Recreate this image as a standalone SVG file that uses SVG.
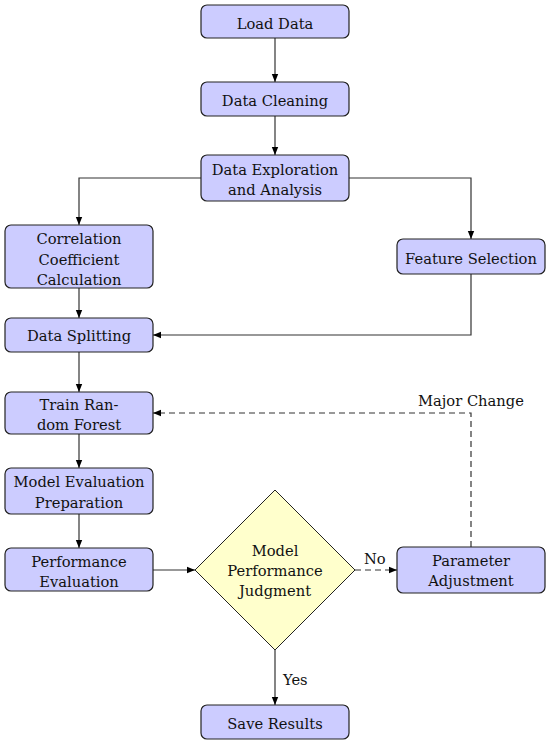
<svg xmlns="http://www.w3.org/2000/svg" width="550" height="745" viewBox="0 0 550 745">
<defs>
<marker id="ah" viewBox="0 0 10 10" refX="10" refY="5" markerWidth="8" markerHeight="8" markerUnits="userSpaceOnUse" orient="auto">
<path d="M0,1 L10,5 L0,9 z" fill="#000"/>
</marker>
<style>
.box{fill:#ccccff;stroke:#222;stroke-width:1.2}
.dia{fill:#ffffcc;stroke:#222;stroke-width:1}
text{font-family:'DejaVu Serif','Liberation Serif',serif;font-size:14.7px;fill:#111}
.t{text-anchor:middle;dominant-baseline:central}
.l{dominant-baseline:central}
.c{fill:none;stroke:#333;stroke-width:1.2;marker-end:url(#ah)}
.d{stroke-dasharray:6,4}
</style>
</defs>
<g id="connectors">
<path class="c" d="M275,38 V82"/>
<path class="c" d="M275,116 V155"/>
<path class="c" d="M201,178 H79 V225"/>
<path class="c" d="M349,178 H471 V239"/>
<path class="c" d="M79,288 V318"/>
<path class="c" d="M471,274 V335 H153"/>
<path class="c" d="M79,352 V392"/>
<path class="c" d="M79,434 V468"/>
<path class="c" d="M79,514 V548"/>
<path class="c" d="M153,570 H195"/>
<path class="c d" d="M355,570 H397"/>
<path class="c d" d="M471,547 V413 H153"/>
<path class="c" d="M275,650 V705"/>
<text class="l" x="364" y="558">No</text>
<text class="l" x="418" y="400">Major Change</text>
<text class="l" x="283" y="679">Yes</text>
</g>
<g id="load"><rect class="box" x="201" y="5" width="148" height="33" rx="6"/><text class="t" x="275" y="23">Load Data</text></g>
<g id="clean"><rect class="box" x="201" y="82" width="148" height="34" rx="6"/><text class="t" x="275" y="100">Data Cleaning</text></g>
<g id="explore"><rect class="box" x="201" y="155" width="148" height="46" rx="6"/><text class="t" x="275" y="169">Data Exploration</text><text class="t" x="275" y="189">and Analysis</text></g>
<g id="corr"><rect class="box" x="5" y="225" width="148" height="63" rx="6"/><text class="t" x="79" y="238">Correlation</text><text class="t" x="79" y="259">Coefficient</text><text class="t" x="79" y="279">Calculation</text></g>
<g id="feature"><rect class="box" x="397" y="239" width="148" height="35" rx="6"/><text class="t" x="471" y="258">Feature Selection</text></g>
<g id="split"><rect class="box" x="5" y="318" width="148" height="34" rx="6"/><text class="t" x="79" y="335">Data Splitting</text></g>
<g id="train"><rect class="box" x="5" y="392" width="148" height="42" rx="6"/><text class="t" x="79" y="404">Train Ran-</text><text class="t" x="79" y="424">dom Forest</text></g>
<g id="prep"><rect class="box" x="5" y="468" width="148" height="46" rx="6"/><text class="t" x="79" y="481">Model Evaluation</text><text class="t" x="79" y="502">Preparation</text></g>
<g id="perf"><rect class="box" x="5" y="548" width="148" height="43" rx="6"/><text class="t" x="79" y="561">Performance</text><text class="t" x="79" y="581">Evaluation</text></g>
<g id="judge"><polygon class="dia" points="275,490 355,570 275,650 195,570"/><text class="t" x="275" y="550">Model</text><text class="t" x="275" y="570">Performance</text><text class="t" x="275" y="590">Judgment</text></g>
<g id="param"><rect class="box" x="397" y="547" width="148" height="46" rx="6"/><text class="t" x="471" y="560">Parameter</text><text class="t" x="471" y="580">Adjustment</text></g>
<g id="save"><rect class="box" x="201" y="705" width="148" height="34" rx="6"/><text class="t" x="275" y="723">Save Results</text></g>
</svg>
